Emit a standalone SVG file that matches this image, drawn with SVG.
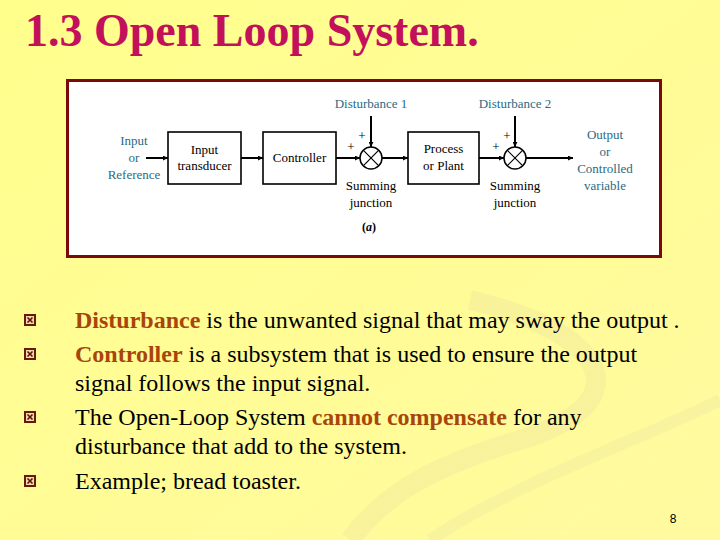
<svg xmlns="http://www.w3.org/2000/svg" width="720" height="540" viewBox="0 0 720 540" font-family="Liberation Serif">
<defs>
<marker id="ah" viewBox="0 0 10 10" refX="10" refY="5" markerWidth="8" markerHeight="5" markerUnits="userSpaceOnUse" orient="auto"><path d="M0,0 L10,5 L0,10 z" fill="#000"/></marker>
<linearGradient id="bg" x1="0" y1="0" x2="1" y2="1"><stop offset="0" stop-color="#ffff8c"/><stop offset="1" stop-color="#fffaa0"/></linearGradient>
<g id="bul"><rect x="-5" y="-5" width="10" height="10" fill="#ecdcb0" stroke="#6b1800" stroke-width="2"/><path d="M-2.5,-2.5 L2.5,2.5 M2.5,-2.5 L-2.5,2.5" stroke="#5a1000" stroke-width="1.6"/></g>
</defs>
<style>
.d{font-size:13px;text-anchor:middle;fill:#2c6a82}
.b{font-size:13px;text-anchor:middle;fill:#000}
.box{fill:#fff;stroke:#000;stroke-width:1.6}
.ln{stroke:#000;stroke-width:2;fill:none}
.sj{fill:#fff;stroke:#000;stroke-width:1.5}
.t{font-size:24px;fill:#000}
.h{font-weight:bold;fill:#a8450c}
</style>
<rect width="720" height="540" fill="url(#bg)"/>
<path d="M470,300 C600,330 650,400 520,440 C420,470 380,500 350,540" fill="none" stroke="#f3ed9c" stroke-width="20" opacity="0.6"/>
<path d="M430,540 C520,480 640,440 720,400" fill="none" stroke="#f4ee9e" stroke-width="12" opacity="0.6"/>
<text x="25" y="46" font-family="Liberation Serif" font-size="46" font-weight="bold" fill="#c2105a">1.3 Open Loop System.</text>
<rect x="67.5" y="80.5" width="593" height="176" fill="#fff" stroke="#7a0a0a" stroke-width="3"/>
<g id="connectors">
<line class="ln" x1="146" y1="158" x2="168" y2="158" marker-end="url(#ah)"/>
<line class="ln" x1="241" y1="158" x2="263" y2="158" marker-end="url(#ah)"/>
<line class="ln" x1="336" y1="158" x2="360" y2="158" marker-end="url(#ah)"/>
<line class="ln" x1="371" y1="116" x2="371" y2="147" marker-end="url(#ah)"/>
<line class="ln" x1="382" y1="158" x2="408" y2="158" marker-end="url(#ah)"/>
<line class="ln" x1="479" y1="158" x2="504" y2="158" marker-end="url(#ah)"/>
<line class="ln" x1="515" y1="116" x2="515" y2="147" marker-end="url(#ah)"/>
<line class="ln" x1="526" y1="158" x2="573" y2="158" marker-end="url(#ah)"/>
</g>
<g id="input" font-family="Liberation Serif"><text class="d" x="134" y="145">Input</text><text class="d" x="134" y="162">or</text><text class="d" x="134" y="179">Reference</text></g>
<g id="transducer" font-family="Liberation Serif"><rect class="box" x="168" y="132" width="73" height="52"/><text class="b" x="204.5" y="154">Input</text><text class="b" x="204.5" y="170">transducer</text></g>
<g id="controller" font-family="Liberation Serif"><rect class="box" x="263" y="132" width="73" height="52"/><text class="b" x="299.5" y="162">Controller</text></g>
<g id="dist1" font-family="Liberation Serif"><text class="d" x="371" y="108">Disturbance 1</text></g>
<g id="sum1" font-family="Liberation Serif"><circle class="sj" cx="371" cy="158" r="11"/><path d="M363.2,150.2 L378.8,165.8 M378.8,150.2 L363.2,165.8" stroke="#000" stroke-width="1.2"/><text class="b" x="351" y="151">+</text><text class="b" x="362" y="140">+</text><text class="b" x="371" y="190">Summing</text><text class="b" x="371" y="207">junction</text></g>
<g id="plant" font-family="Liberation Serif"><rect class="box" x="408" y="132" width="71" height="52"/><text class="b" x="443.5" y="153">Process</text><text class="b" x="443.5" y="170">or Plant</text></g>
<g id="dist2" font-family="Liberation Serif"><text class="d" x="515" y="108">Disturbance 2</text></g>
<g id="sum2" font-family="Liberation Serif"><circle class="sj" cx="515" cy="158" r="11"/><path d="M507.2,150.2 L522.8,165.8 M522.8,150.2 L507.2,165.8" stroke="#000" stroke-width="1.2"/><text class="b" x="496" y="151">+</text><text class="b" x="507" y="140">+</text><text class="b" x="515" y="190">Summing</text><text class="b" x="515" y="207">junction</text></g>
<g id="output" font-family="Liberation Serif"><text class="d" x="605" y="139">Output</text><text class="d" x="605" y="156">or</text><text class="d" x="605" y="173">Controlled</text><text class="d" x="605" y="190">variable</text></g>
<text x="369" y="231" font-family="Liberation Serif" font-size="12" font-weight="bold" text-anchor="middle">(<tspan font-style="italic">a</tspan>)</text>
<use href="#bul" x="30" y="320"/>
<use href="#bul" x="30" y="354"/>
<use href="#bul" x="30" y="417"/>
<use href="#bul" x="30" y="481"/>
<g id="bullets" font-family="Liberation Serif">
<text class="t" x="75" y="328"><tspan class="h">Disturbance</tspan> is the unwanted signal that may sway the output .</text>
<text class="t" x="75" y="362"><tspan class="h">Controller</tspan> is a subsystem that is used to ensure the output</text>
<text class="t" x="75" y="391">signal follows the input signal.</text>
<text class="t" x="75" y="425">The Open-Loop System <tspan class="h">cannot compensate</tspan> for any</text>
<text class="t" x="75" y="454">disturbance that add to the system.</text>
<text class="t" x="75" y="489">Example; bread toaster.</text>
</g>
<text x="673" y="523" font-family="Liberation Sans" font-size="12" text-anchor="middle" fill="#000">8</text>
</svg>
